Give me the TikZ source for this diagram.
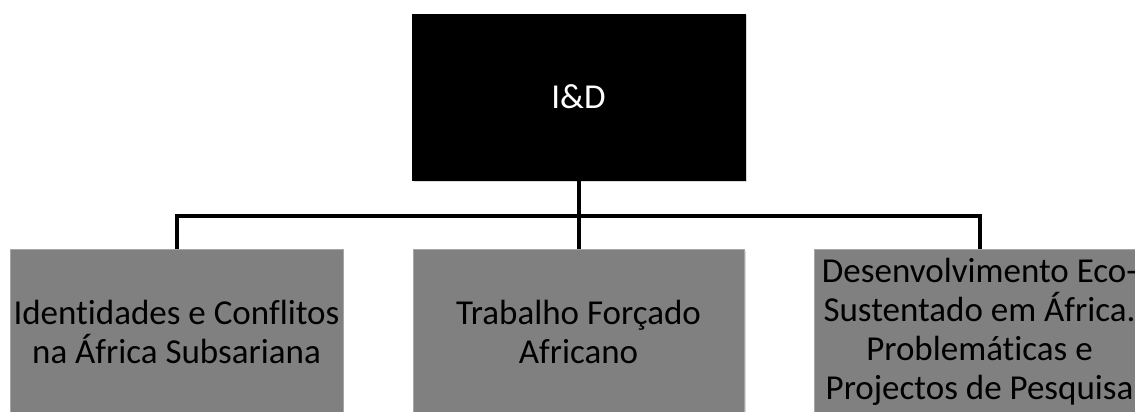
\documentclass[tikz,border=0pt]{standalone}
\usepackage{fontspec}
\setmainfont{Carlito}[Ligatures=NoCommon]
\usetikzlibrary{shadows}

\tikzset{
  topbox/.style={draw=black, fill=black, text=white, minimum width=333pt, minimum height=166pt, align=center, font=\fontsize{35}{39}\selectfont, drop shadow={opacity=0.3, shadow xshift=1.5pt, shadow yshift=-1.5pt}},
  subbox/.style={draw=black!35, fill=black!50, text=black, minimum width=331pt, minimum height=166pt, align=center, font=\fontsize{35}{39}\selectfont, drop shadow={opacity=0.3, shadow xshift=1.5pt, shadow yshift=-1.5pt}},
  link/.style={line width=4pt, black}
}

\begin{document}
\begin{tikzpicture}[x=1pt, y=-1pt]
        \useasboundingbox[fill=white] (0,0) rectangle (1135,412);
        \node[topbox] (rd) at (578.5, 97) {I\&D};
        \node[subbox] (ident) at (176.5, 332) {Identidades e Conflitos\\na África Subsariana};
        \node[subbox] (trab) at (578.5, 332) {Trabalho Forçado\\Africano};
        \node[subbox] (desenv) at (979.5, 332) {Desenvolvimento Eco-\\Sustentado em África.\\Problemáticas e\\Projectos de Pesquisa};
        \coordinate (bus) at (578.5, 216);
        \draw[link] (rd.south) -- (trab.north);
        \draw[link] (ident.north) |- (bus) -| (desenv.north);
    \end{tikzpicture}
\end{document}
